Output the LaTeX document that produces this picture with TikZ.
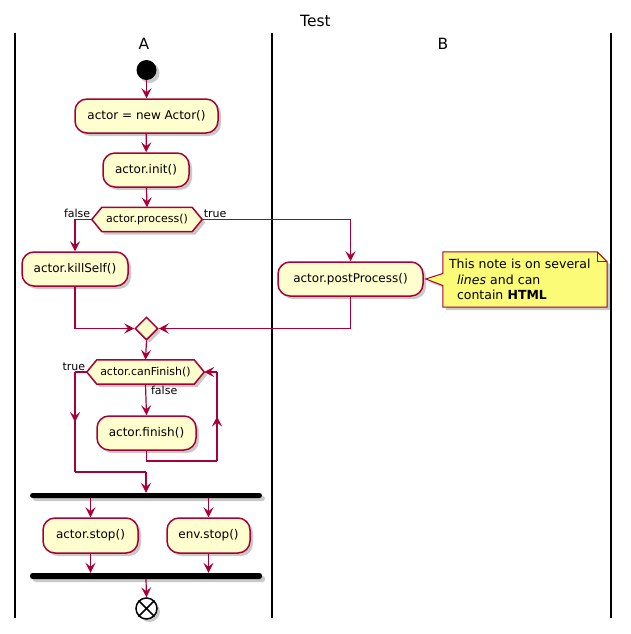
\documentclass[tikz,border=0pt]{standalone}
\usepackage{fontspec}
\setmainfont{DejaVu Sans}
\usetikzlibrary{arrows.meta,shapes.geometric,shadows,backgrounds,decorations.markings}
\definecolor{plred}{HTML}{A80036}
\definecolor{plyellow}{HTML}{FEFECE}
\definecolor{noteyellow}{HTML}{FBFB77}
\newcommand\hexpath[1]{(#1.west) -- ([xshift=10pt]#1.north west) -- ([xshift=-10pt]#1.north east) -- (#1.east) -- ([xshift=-10pt]#1.south east) -- ([xshift=10pt]#1.south west) -- cycle}
\tikzset{
  shad/.style={drop shadow={shadow xshift=3pt,shadow yshift=-3pt,opacity=0.3,fill=black!70}},
  actbox/.style={draw=plred,fill=plyellow,line width=1.5pt,rounded corners=12pt,inner sep=0pt,
    minimum height=34pt,font=\fontsize{12}{14}\selectfont,shad},
  hextext/.style={inner sep=0pt,minimum height=24pt,font=\fontsize{11}{13}\selectfont},
  hexshape/.style={draw=plred,fill=plyellow,line width=1.5pt,shad},
  lbl/.style={inner sep=1pt,font=\fontsize{11}{13}\selectfont},
  hdr/.style={anchor=base,inner sep=0pt,font=\fontsize{15.5}{18}\selectfont},
  lane/.style={draw=black,line width=1.5pt},
  tip/.style={-{Stealth[length=10pt,width=10pt,inset=4pt]}},
  arr/.style={draw=plred,line width=1.2pt,tip},
  line/.style={draw=plred,line width=1.2pt},
  midarr/.style={draw=plred,line width=1.2pt,postaction={decorate},
    decoration={markings,mark=at position 0.5 with {\arrow{Stealth[length=10pt,width=10pt,inset=4pt]}}}},
  bar/.style={fill=black,inner sep=0pt,minimum width=232pt,rounded corners=2.5pt,shad},
}
\begin{document}
\begin{tikzpicture}[x=1pt,y=-1pt]
\useasboundingbox (0,0) rectangle (630,634);
% title and lanes
\node[hdr] (title) at (315.5,27) {Test};
\node[hdr] (laneA) at (144,50) {A};
\node[hdr] (laneB) at (443,50) {B};
\draw[lane] (15,33) -- (15,618);
\draw[lane] (272,33) -- (272,618);
\draw[lane] (611,33) -- (611,618);
% nodes
\node[circle,fill=black,minimum size=20pt,inner sep=0pt,shad] (start) at (146.5,70) {};
\node[actbox,minimum width=143pt] (a1) at (146.5,116) {actor = new Actor()};
\node[actbox,minimum width=86pt] (a2) at (146,170) {actor.init()};
\node[hextext,minimum width=110pt] (d1) at (147,219.5) {actor.process()};
\node[actbox,minimum width=106pt] (k1) at (75,269) {actor.killSelf()};
\node[actbox,minimum width=145pt] (pp) at (350.5,279) {actor.postProcess()};
\node[inner xsep=6pt,inner ysep=0pt,text width=152pt,align=left,minimum height=55pt,
  font=\fontsize{12.5}{15.5}\selectfont] (note) at (525,279.5)
  {This note is on several\\\hspace*{8pt}\textit{lines} and can\\\hspace*{8pt}contain \textbf{HTML}};
\node[diamond,draw=plred,fill=plyellow,line width=1.5pt,minimum width=23pt,minimum height=23pt,inner sep=0pt,shad] (m1) at (146.5,328.5) {};
\node[hextext,minimum width=117pt] (d2) at (145.5,372) {actor.canFinish()};
\node[actbox,minimum width=99pt] (f1) at (146.5,433) {actor.finish()};
\coordinate (lr) at (217,461);
\coordinate (ll) at (75,472);
\node[bar,minimum height=5pt] (b1) at (146,495.5) {};
\node[actbox,minimum width=95pt,minimum height=35pt] (s1) at (90.5,535.5) {actor.stop()};
\node[actbox,minimum width=83pt,minimum height=35pt] (s2) at (208.5,535.5) {env.stop()};
\node[bar,minimum height=6pt] (b2) at (146,576) {};
\node[circle,draw=black,fill=white,line width=1.5pt,minimum size=21pt,inner sep=0pt,shad] (end) at (146.5,608.5) {};
\draw[black,line width=1.5pt] (end.north west) -- (end.south east) (end.north east) -- (end.south west);
% background shapes
\begin{scope}[on background layer]
  \draw[hexshape] \hexpath{d1};
  \draw[hexshape] \hexpath{d2};
  \draw[draw=plred,fill=noteyellow,line width=1pt,shad]
    (note.north west) -- ([xshift=-10pt]note.north east) -- ([yshift=-10pt]note.north east)
    -- (note.south east) -- (note.south west) -- ([yshift=-6pt]note.west)
    -- ([xshift=2pt]pp.east) -- ([yshift=6pt]note.west) -- cycle;
\end{scope}
\draw[draw=plred,line width=1pt] ([xshift=-10pt]note.north east) -- ([xshift=-10pt,yshift=-10pt]note.north east) -- ([yshift=-10pt]note.north east);
% connectors
\draw[arr] (start) -- (a1);
\draw[arr] (a1) -- (a2);
\draw[arr] (a2) -- (d1.north);
\draw[arr] (d1.west) node[lbl,anchor=south east] {false} -| (k1.north);
\draw[arr] (d1.east) node[lbl,anchor=south west] {true} -| (pp.north);
\draw[arr] (k1.south) |- (m1.west);
\draw[arr] (pp.south) |- (m1.east);
\draw[arr] (m1.south) -- (d2.north);
\draw[arr] (d2.south) node[lbl,anchor=north west,xshift=4pt] {false} -- (f1.north);
\draw[line] (f1.south) |- (lr);
\draw[midarr] (lr) -- (lr |- d2.east);
\draw[arr] (lr |- d2.east) -- (d2.east);
\draw[line] (d2.west) node[lbl,anchor=south east] {true} -| (ll |- d2.west);
\draw[midarr] (ll |- d2.west) -- (ll);
\draw[line] (ll) -- (ll -| b1.north);
\draw[arr] (ll -| b1.north) -- (b1.north);
\draw[arr] (s1.north |- b1.south) -- (s1.north);
\draw[arr] (s2.north |- b1.south) -- (s2.north);
\draw[arr] (s1.south) -- (s1.south |- b2.north);
\draw[arr] (s2.south) -- (s2.south |- b2.north);
\draw[arr] (b2.south) -- (end.north);
\end{tikzpicture}
\end{document}
